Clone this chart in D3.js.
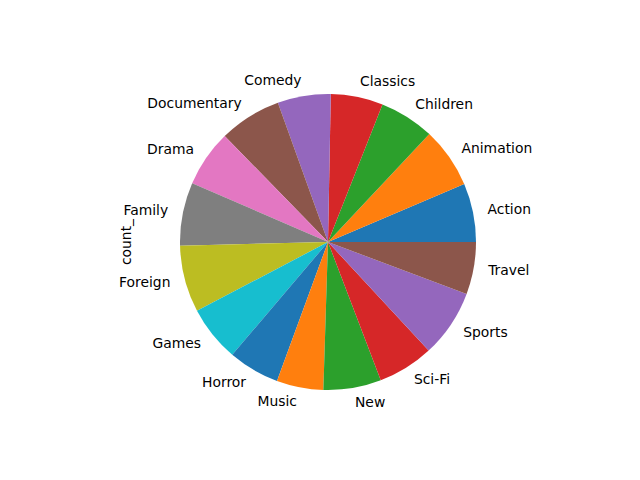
<!DOCTYPE html>
<html>
<head>
<meta charset="utf-8">
<script src="https://cdn.jsdelivr.net/npm/d3@7"></script>
<style>
  html, body { margin: 0; padding: 0; background: #fff; }
  text { font-family: "DejaVu Sans", sans-serif; font-size: 13.89px; fill: #000; }
</style>
</head>
<body>
<svg id="chart" width="640" height="480"></svg>
<script>
const categories = ["Action","Animation","Children","Classics","Comedy","Documentary","Drama","Family","Foreign","Games","Horror","Music","New","Sci-Fi","Sports","Travel"];
const counts = [64,66,60,57,58,68,62,69,73,61,56,51,63,61,74,57];
const colors = ["#1f77b4","#ff7f0e","#2ca02c","#d62728","#9467bd","#8c564b","#e377c2","#7f7f7f","#bcbd22","#17becf"];
const yLabel = "count_";

const W = 640, H = 480;
const cx = 328, cy = 242, R = 148;

const svg = d3.select("#chart");
const g = svg.append("g").attr("transform", `translate(${cx},${cy})`);

const data = categories.map((c, i) => ({ name: c, value: counts[i] }));
// matplotlib: start at 3 o'clock, counterclockwise
const pie = d3.pie().value(d => d.value).sort(null)
  .startAngle(Math.PI / 2).endAngle(Math.PI / 2 - 2 * Math.PI);
const arcs = pie(data);
const arc = d3.arc().innerRadius(0).outerRadius(R);

g.selectAll("path").data(arcs).enter().append("path")
  .attr("d", arc)
  .attr("fill", (d, i) => colors[i % colors.length]);

g.selectAll("text.lbl").data(arcs).enter().append("text")
  .attr("class", "lbl")
  .each(function(d) {
    const a = (d.startAngle + d.endAngle) / 2;
    const x = 1.1 * R * Math.sin(a);
    const y = -1.1 * R * Math.cos(a) - 1;
    d3.select(this)
      .attr("x", x).attr("y", y)
      .attr("text-anchor", x > 0 ? "start" : "end")
      .attr("dominant-baseline", "central")
      .text(d.data.name);
  });

svg.append("text")
  .attr("transform", `translate(126,${cy}) rotate(-90)`)
  .attr("text-anchor", "middle")
  .attr("dominant-baseline", "central")
  .text(yLabel);
</script>
</body>
</html>
